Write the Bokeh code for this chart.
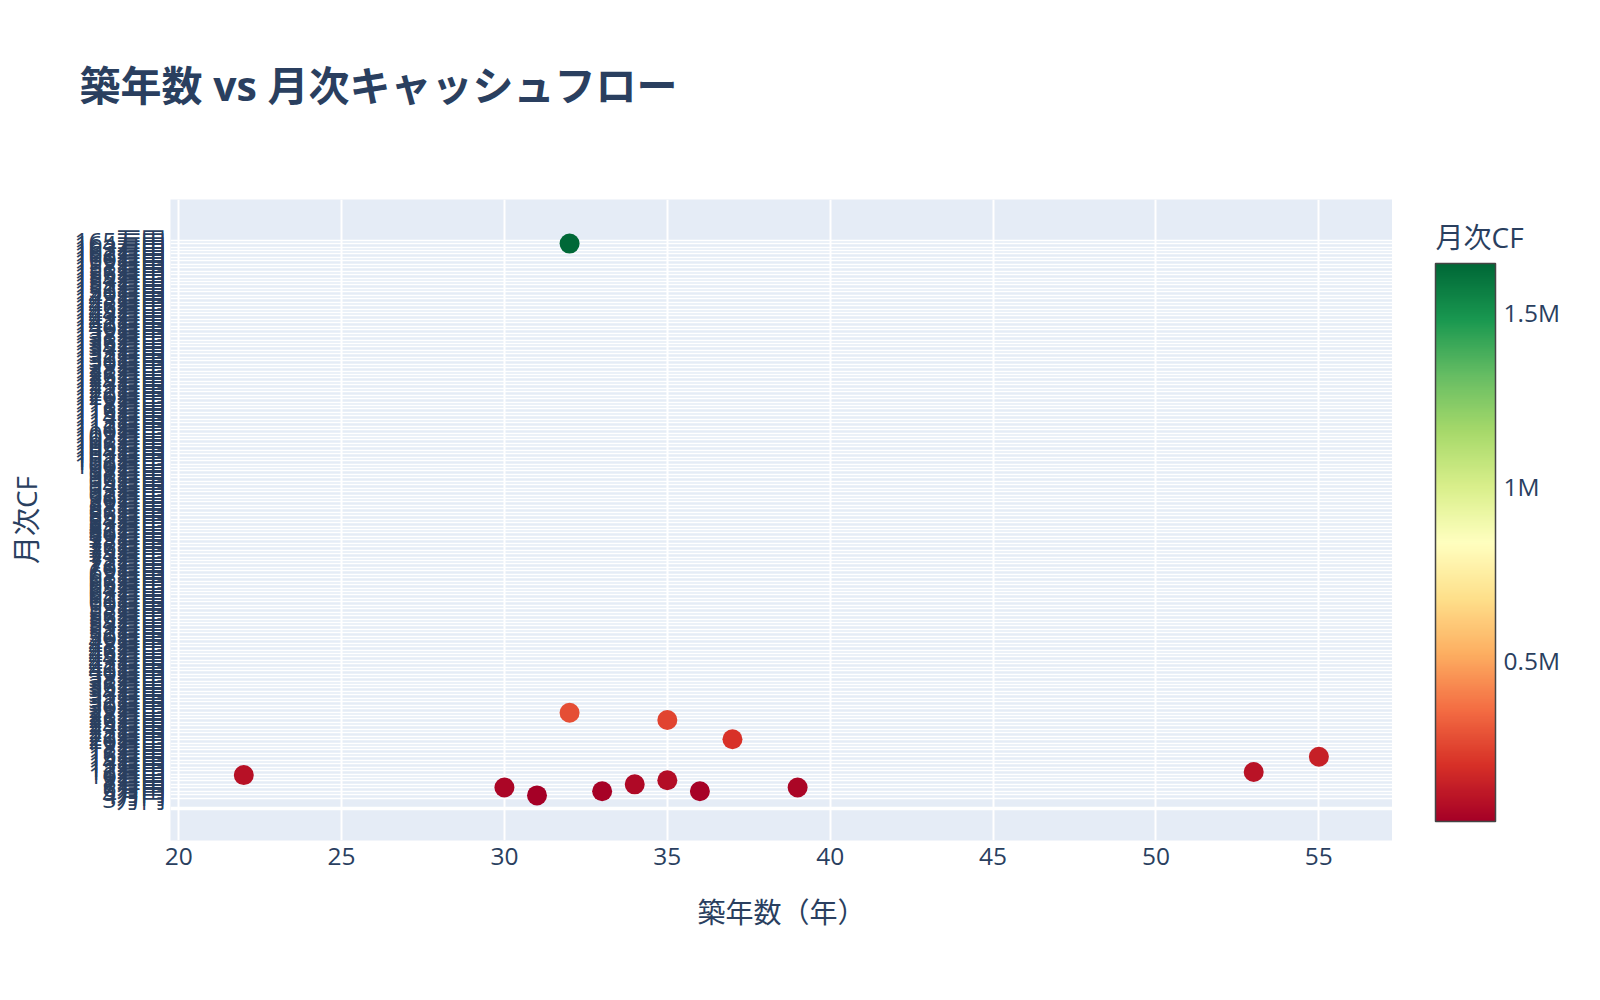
import numpy as np
from bokeh.plotting import figure
from bokeh.layouts import column, row
from bokeh.models import ColumnDataSource, LinearColorMapper, ColorBar, FixedTicker, Span, Label
from bokeh.embed import file_html
from bokeh.resources import INLINE
from bokeh.palettes import RdYlGn11

# ---- data ----
age = [22, 30, 31, 32, 32, 33, 34, 35, 35, 36, 37, 39, 53, 55]
monthly_cf = [97000, 61000, 38000, 1640000, 278000, 50000, 70000, 82000,
              257000, 50000, 201000, 61000, 106000, 150000]
y_tick_man = list(range(3, 166))
y_tick_values = [m * 10000 for m in y_tick_man]
y_tick_labels = [f"{m}万円" for m in y_tick_man]
x_ticks = [20, 25, 30, 35, 40, 45, 50, 55]
cbar_ticks = [500000, 1000000, 1500000]
cbar_labels = ["0.5M", "1M", "1.5M"]

TITLE = "築年数 vs 月次キャッシュフロー"
X_TITLE = "築年数（年）"
Y_TITLE = "月次CF"
CB_TITLE = "月次CF"

FONT = "'Open Sans', 'Noto Sans CJK JP', sans-serif"
TXT = "#2a3f5f"

# smooth RdYlGn palette (red -> green)
stops = list(reversed(RdYlGn11))
rgb = np.array([[int(h[i:i + 2], 16) for i in (1, 3, 5)] for h in stops], float)
pos = np.linspace(0, 1, len(stops))
palette = ["#%02x%02x%02x" % tuple(int(round(np.interp(t, pos, rgb[:, k]))) for k in range(3))
           for t in np.linspace(0, 1, 256)]

src = ColumnDataSource(dict(age=age, cf=monthly_cf))
mapper = LinearColorMapper(palette=palette, low=min(monthly_cf), high=max(monthly_cf))

FW, FH = 1222, 641
LEFT = 170
TOP_T = 118          # height of the title strip
FRAME_TOP = 199      # frame top on the page canvas

# ---- title strip ----
t_fig = figure(frame_width=FW, frame_height=1, min_border_left=163, min_border_right=0,
               min_border_top=TOP_T - 1, min_border_bottom=0,
               x_axis_type=None, y_axis_type=None, output_backend="svg",
               toolbar_location=None, outline_line_color=None,
               background_fill_color="white", border_fill_color="white")
t_fig.grid.visible = False
t_fig.title.text = TITLE
t_fig.title.text_font = FONT
t_fig.title.text_font_size = "41px"
t_fig.title.text_font_style = "bold"
t_fig.title.text_color = TXT
t_fig.title.offset = -84
t_fig.title.standoff = 10

# ---- main scatter ----
p = figure(frame_width=FW, frame_height=FH,
           x_range=(19.75, 57.26), y_range=(-93000, 1768000),
           output_backend="svg", toolbar_location=None,
           min_border_left=LEFT, min_border_top=FRAME_TOP - TOP_T,
           min_border_bottom=135, min_border_right=0,
           background_fill_color="#E5ECF6", border_fill_color="white",
           outline_line_color=None)
p.title_location = None

p.xgrid.grid_line_color = "white"
p.xgrid.grid_line_width = 2
p.ygrid.grid_line_color = "white"
p.ygrid.grid_line_width = 1.5
p.add_layout(Span(location=0, dimension="width", line_color="white", line_width=3.5, level="underlay"))

p.xaxis.ticker = FixedTicker(ticks=x_ticks)
p.yaxis.ticker = FixedTicker(ticks=y_tick_values)
p.yaxis.major_label_overrides = dict(zip(y_tick_values, y_tick_labels))
for ax in (p.xaxis[0], p.yaxis[0]):
    ax.axis_line_color = None
    ax.major_tick_line_color = None
    ax.minor_tick_line_color = None
    ax.major_tick_out = 0
    ax.major_tick_in = 0
    ax.minor_tick_out = 0
    ax.major_label_text_font = FONT
    ax.major_label_text_font_size = "24.5px"
    ax.major_label_text_color = TXT
    ax.axis_label_text_font = FONT
    ax.axis_label_text_font_size = "28px"
    ax.axis_label_text_font_style = "normal"
    ax.axis_label_text_color = TXT
p.xaxis.major_label_standoff = 7
p.yaxis.major_label_standoff = 5
p.xaxis.axis_label = X_TITLE
p.yaxis.axis_label = Y_TITLE
p.xaxis.axis_label_standoff = 25
p.yaxis.axis_label_standoff = 26

p.scatter("age", "cf", source=src, size=20,
          fill_color={"field": "cf", "transform": mapper}, line_color=None)

# ---- colour bar panel (frame aligned with the main frame) ----
CB_H = 558
cb_fig = figure(frame_width=140, frame_height=FH, min_border_left=43, min_border_right=5,
                min_border_top=FRAME_TOP - TOP_T, min_border_bottom=0,
                x_axis_type=None, y_axis_type=None, output_backend="svg",
                toolbar_location=None, outline_line_color=None,
                background_fill_color="white", border_fill_color="white")
cb_fig.grid.visible = False
cb_fig.title_location = None

cb = ColorBar(color_mapper=mapper, width=60, height=CB_H, location=(0, 19),
              margin=0, padding=0,
              ticker=FixedTicker(ticks=cbar_ticks),
              major_label_overrides=dict(zip(cbar_ticks, cbar_labels)),
              major_label_text_font=FONT, major_label_text_font_size="24.5px",
              major_label_text_color=TXT,
              major_tick_line_color=None, minor_tick_line_color=None,
              bar_line_color="#444444", bar_line_width=1.5, label_standoff=8,
              background_fill_color=None, border_line_color=None)
cb_fig.add_layout(cb, "center")
cb_fig.add_layout(Label(x=0, y=FH - 37, x_units="screen", y_units="screen",
                        text=CB_TITLE, text_font=FONT, text_font_size="28px",
                        text_color=TXT, text_baseline="middle", text_align="left"))

layout = column(t_fig, row(p, cb_fig))
open("out.html", "w").write(file_html(layout, INLINE))
